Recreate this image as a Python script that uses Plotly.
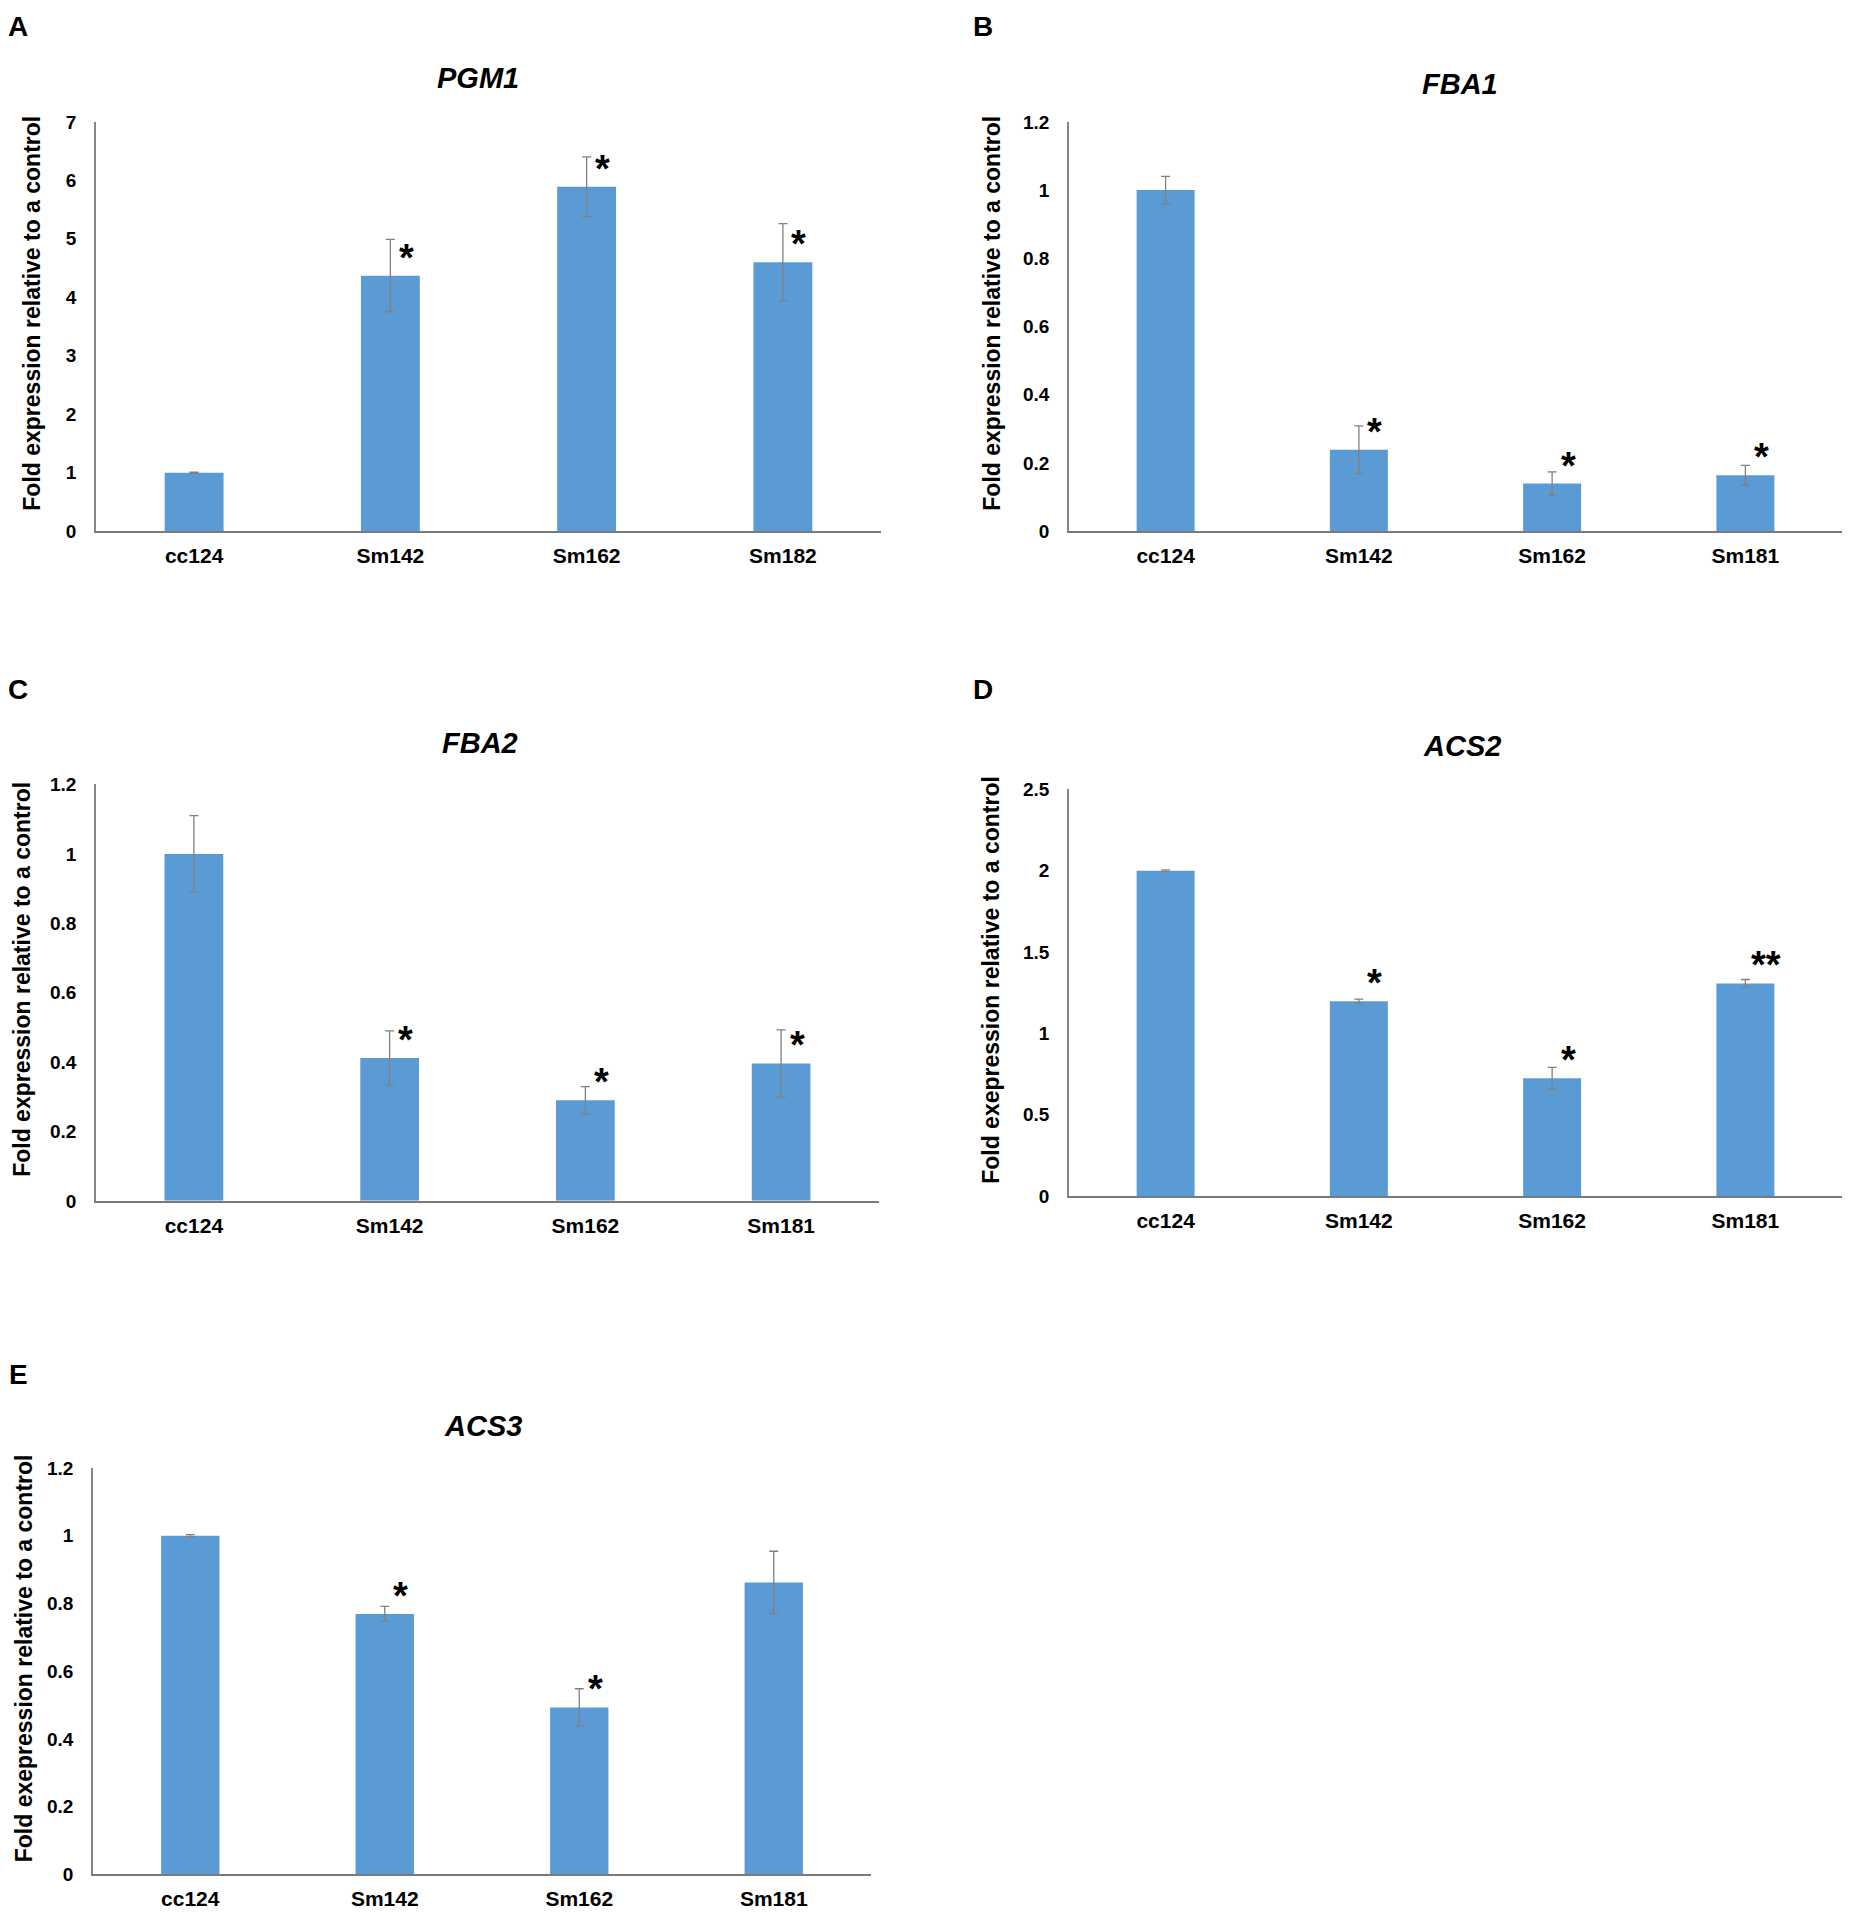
import plotly.graph_objects as go
from plotly.subplots import make_subplots

# ---- data ----
cats_a = ["cc124", "Sm142", "Sm162", "Sm182"]
cats = ["cc124", "Sm142", "Sm162", "Sm181"]

pgm1 = [1.0, 4.37, 5.89, 4.60]
pgm1_err = [0.01, 0.62, 0.51, 0.66]
pgm1_sig = ["", "*", "*", "*"]

fba1 = [1.0, 0.239, 0.140, 0.164]
fba1_err = [0.04, 0.07, 0.034, 0.029]
fba1_sig = ["", "*", "*", "*"]

fba2 = [1.0, 0.412, 0.290, 0.396]
fba2_err = [0.11, 0.078, 0.039, 0.097]
fba2_sig = ["", "*", "*", "*"]

acs2 = [2.0, 1.198, 0.724, 1.307]
acs2_err = [0.005, 0.012, 0.067, 0.024]
acs2_sig = ["", "*", "*", "**"]

acs3 = [1.0, 0.769, 0.493, 0.862]
acs3_err = [0.003, 0.022, 0.055, 0.092]
acs3_sig = ["", "*", "*", ""]

ytitle = "Fold expression relative to a control"
ytitle2 = "Fold exepression relative to a control"

W, H = 1850, 1912
FONT = "Liberation Sans, Arial, sans-serif"
BLUE = "#5B9BD5"

# box = plot area in page pixels (left, right, top, bottom)
panels = [
    dict(letter="A", gene="PGM1", x=cats_a, y=pgm1, err=pgm1_err, sig=pgm1_sig, ymax=7, dtick=1,
         ytitle=ytitle, row=1, col=1, box=(88, 873, 105, 519), title_xy=(470, 61), letter_xy=(10, 9), yt_x=24),
    dict(letter="B", gene="FBA1", x=cats, y=fba1, err=fba1_err, sig=fba1_sig, ymax=1.2, dtick=0.2,
         ytitle=ytitle, row=1, col=2, box=(1061, 1834, 105, 519), title_xy=(1452, 67), letter_xy=(975, 9), yt_x=984),
    dict(letter="C", gene="FBA2", x=cats, y=fba2, err=fba2_err, sig=fba2_sig, ymax=1.2, dtick=0.2,
         ytitle=ytitle, row=2, col=1, box=(88, 871, 775, 1196), title_xy=(472, 733), letter_xy=(10, 679), yt_x=14),
    dict(letter="D", gene="ACS2", x=cats, y=acs2, err=acs2_err, sig=acs2_sig, ymax=2.5, dtick=0.5,
         ytitle=ytitle2, row=2, col=2, box=(1061, 1834, 780, 1191), title_xy=(1454, 736), letter_xy=(975, 679), yt_x=983),
    dict(letter="E", gene="ACS3", x=cats, y=acs3, err=acs3_err, sig=acs3_sig, ymax=1.2, dtick=0.2,
         ytitle=ytitle2, row=3, col=1, box=(85, 863, 1466, 1877), title_xy=(475, 1424), letter_xy=(10, 1372), yt_x=16),
]

fig = make_subplots(rows=3, cols=2, specs=[[{}, {}], [{}, {}], [{}, None]])

annotations = []
for i, p in enumerate(panels):
    fig.add_trace(go.Bar(
        x=p["x"], y=p["y"], width=0.3,
        marker=dict(color=BLUE, line=dict(width=0)),
        error_y=dict(type="data", array=p["err"], color="#808080", thickness=1.3, width=4.5),
        showlegend=False,
    ), row=p["row"], col=p["col"])

    x0, x1, y0, y1 = p["box"]
    fig.update_xaxes(
        domain=[x0 / W, x1 / W], showline=True, linecolor="#7a7a7a", linewidth=1.5,
        ticks="outside", ticklen=5, tickcolor="rgba(0,0,0,0)", showgrid=False,
        tickfont=dict(family=FONT, size=21, color="#000", weight="bold"),
        row=p["row"], col=p["col"])
    fig.update_yaxes(
        domain=[1 - y1 / H, 1 - y0 / H], range=[0, p["ymax"]], dtick=p["dtick"],
        showline=True, linecolor="#868686", linewidth=1.5, showgrid=False, zeroline=False,
        ticks="outside", ticklen=14, tickcolor="rgba(0,0,0,0)",
        tickfont=dict(family=FONT, size=19, color="#000", weight="bold"),
        row=p["row"], col=p["col"])

    suffix = "" if i == 0 else str(i + 1)
    xref, yref = "x" + suffix, "y" + suffix

    # panel letter
    annotations.append(dict(text=p["letter"], xref="paper", yref="paper",
                            x=p["letter_xy"][0] / W, y=1 - p["letter_xy"][1] / H,
                            xanchor="center", yanchor="middle", showarrow=False,
                            font=dict(family=FONT, size=28, color="#000", weight="bold")))
    # gene title
    annotations.append(dict(text=p["gene"], xref="paper", yref="paper",
                            x=p["title_xy"][0] / W, y=1 - p["title_xy"][1] / H,
                            xanchor="center", yanchor="middle", showarrow=False,
                            font=dict(family=FONT, size=29, color="#000", weight="bold", style="italic")))
    # y-axis title
    annotations.append(dict(text=p["ytitle"], xref="paper", yref="paper", textangle=-90,
                            x=p["yt_x"] / W, y=1 - ((y0 + y1) / 2 - 13) / H,
                            xanchor="center", yanchor="middle", showarrow=False,
                            font=dict(family=FONT, size=23, color="#000", weight="bold")))
    # significance marks
    for c, v, s in zip(p["x"], p["y"], p["sig"]):
        if not s:
            continue
        annotations.append(dict(text=s, xref=xref, yref=yref, x=c, y=v,
                                xanchor="center", yanchor="bottom",
                                xshift=16 if len(s) == 1 else 21, yshift=-5,
                                showarrow=False,
                                font=dict(family=FONT, size=38, color="#000", weight="bold")))

fig.update_layout(
    width=W, height=H,
    margin=dict(l=0, r=0, t=0, b=0),
    plot_bgcolor="white", paper_bgcolor="white",
    annotations=annotations,
)

fig.write_html("out.html")
